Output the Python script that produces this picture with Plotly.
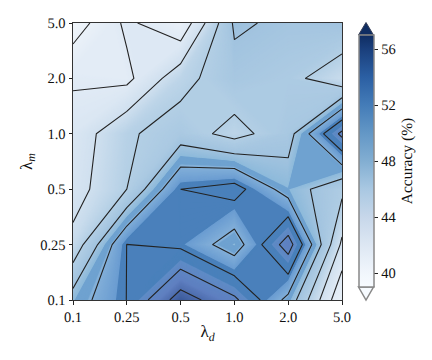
import plotly.graph_objects as go

x_labels = ["0.1", "0.25", "0.5", "1.0", "2.0", "5.0"]
y_labels = ["0.1", "0.25", "0.5", "1.0", "2.0", "5.0"]
acc_r01 = [48.9, 52.03, 57.0, 54.4, 49.4, 40.2]
acc_r025 = [44.6, 52.02, 51.6, 48.9, 55.0, 43.6]
acc_r05 = [43.1, 46.0, 52.0, 52.8, 49.05, 46.5]
acc_r1 = [42.7, 45.7, 47.0, 45.3, 47.2, 54.5]
acc_r2 = [41.8, 41.5, 45.3, 47.3, 46.7, 44.5]
acc_r5 = [38.9, 42.4, 40.4, 48.3, 47.6, 47.9]
z = [acc_r01, acc_r025, acc_r05, acc_r1, acc_r2, acc_r5]

cb_ticks = [40, 44, 48, 52, 56]
vmin, vmax = 39.0, 57.0
bar_stops = [(39, "#f7fbff"), (40, "#f1f6fc"), (42, "#dde7f3"), (44, "#c7d7ea"), (46, "#a9c8e2"),
             (48, "#82aed2"), (50, "#6397c6"), (52, "#447cb8"), (54, "#2b5fa3"), (56, "#1a3f7c"), (57, "#0f2d62")]
fill_stops = [(39, "#f0f5fa"), (42, "#e0eaf5"), (44, "#d0e0ef"), (46, "#b3cfe5"), (48, "#a1c3df"),
              (48.99, "#8ebadb"), (49, "#6fa2d0"), (49.75, "#6fa2d0"), (49.8, "#86b2da"), (51.39, "#6a9cd1"),
              (51.4, "#4a80bb"), (53.1, "#4a80bb"), (53.15, "#5f8cc6"), (55, "#5f7fc0"), (57, "#3c5a9a")]


def to_scale(stops):
    return [[(v - vmin) / (vmax - vmin), c] for v, c in stops]


FONT = "Liberation Serif"
L, T, W, H = 73, 23, 269, 277
idx = list(range(6))


def px(xp):
    return (xp - L) / W


def py(yp):
    return (T + H - yp) / H


fig = go.Figure()
fig.add_trace(go.Contour(
    x=idx, y=idx, z=z, zmin=vmin, zmax=vmax, colorscale=to_scale(fill_stops), showscale=False,
    autocontour=False, contours=dict(start=vmin, end=vmax, size=0.05, coloring="fill", showlines=False),
    line=dict(width=0, smoothing=0), hoverinfo="skip",
))
fig.add_trace(go.Contour(
    x=idx, y=idx, z=z, showscale=False, autocontour=False,
    contours=dict(start=40, end=56, size=2, coloring="none"),
    line=dict(color="#222222", width=1.1, smoothing=0), hoverinfo="skip",
))
fig.add_trace(go.Scatter(
    x=[None], y=[None], mode="markers", hoverinfo="skip",
    marker=dict(
        color=[vmin], cmin=vmin, cmax=vmax, colorscale=to_scale(bar_stops), showscale=True,
        colorbar=dict(
            thickness=15, thicknessmode="pixels", len=252, lenmode="pixels",
            x=px(358.5), xanchor="left", xpad=0, y=py(287), yanchor="bottom", ypad=0,
            outlinecolor="#888888", outlinewidth=1.5,
            tickmode="array", tickvals=cb_ticks, ticks="outside", ticklen=4, tickcolor="#222222",
            tickfont=dict(family=FONT, size=14.5, color="#111111"),
            title=dict(text="Accuracy (%)", side="right", font=dict(family=FONT, size=15.5, color="#111111")),
        ),
    ),
))

axis = dict(tickmode="array", tickvals=idx, range=[0, 5], ticks="outside", ticklen=3.5, tickcolor="#222222",
            showline=True, linecolor="#333333", linewidth=1, mirror=True, showgrid=False, zeroline=False,
            tickfont=dict(family=FONT, size=14.5, color="#111111"))
fig.update_layout(
    width=432, height=360, margin=dict(l=L, r=432 - L - W, t=T, b=360 - T - H),
    paper_bgcolor="white", plot_bgcolor="white", showlegend=False,
    xaxis=dict(axis, ticktext=x_labels,
               title=dict(text="λ<sub><i>d</i></sub>", standoff=1, font=dict(family=FONT, size=17, color="#111111"))),
    yaxis=dict(axis, ticktext=y_labels,
               title=dict(text="λ<sub><i>m</i></sub>", standoff=3, font=dict(family=FONT, size=17, color="#111111"))),
    shapes=[
        dict(type="path", xref="paper", yref="paper", layer="above",
             path=f"M {px(358.5)} {py(35)} L {px(366)} {py(22.5)} L {px(373.5)} {py(35)} Z",
             fillcolor="#0f2d62", line=dict(color="#333c55", width=1)),
        dict(type="path", xref="paper", yref="paper", layer="above",
             path=f"M {px(358.5)} {py(287)} L {px(366)} {py(300)} L {px(373.5)} {py(287)} Z",
             fillcolor="#f7fbff", line=dict(color="#888888", width=1.5)),
    ],
)
fig.write_html("out.html", config={"displayModeBar": False},
               post_script="document.body.style.margin='0';document.body.style.textRendering='geometricPrecision';")
